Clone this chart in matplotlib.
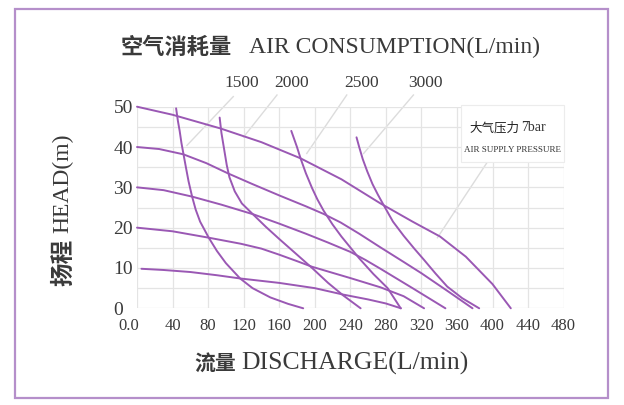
import matplotlib
matplotlib.use('Agg')
import matplotlib.pyplot as plt
from matplotlib.patches import Rectangle
import matplotlib.transforms as mtransforms

# ---------------- data ----------------
x_ticks = [0, 40, 80, 120, 160, 200, 240, 280, 320, 360, 400, 440, 480]
x_tick_labels = ['0.0', '40', '80', '120', '160', '200', '240', '280', '320', '360', '400', '440', '480']
y_ticks = [0, 10, 20, 30, 40, 50]
y_tick_labels = ['0', '10', '20', '30', '40', '50']

# head curves (discharge L/min, head m)
h50_x = [0, 40, 94, 140, 184, 230, 274, 310, 341, 370, 400, 420.6]
h50_y = [50, 48, 44.6, 41.2, 37.2, 32, 26, 21.5, 17.8, 12.8, 6, 0]
h40_x = [0, 25, 52, 78, 103, 130, 160, 190, 210, 229, 250, 274, 300, 320, 350, 377.5]
h40_y = [40, 39.5, 38.2, 36, 33.4, 30.8, 28, 25.3, 23.4, 21.3, 18.5, 15.1, 11.5, 8.7, 4.2, 0]
h30_x = [0, 30, 62, 95, 131, 160, 190, 215, 240, 257, 274, 310, 347]
h30_y = [30, 29.3, 27.7, 25.7, 23.3, 21, 18.5, 16.3, 14, 12, 9.8, 5, 0]
h20_x = [0, 40, 81, 117, 140, 160, 180, 197, 220, 240, 274, 300, 323]
h20_y = [20, 19.1, 17.5, 16, 14.8, 13.3, 11.7, 10.3, 8.8, 7.5, 5.2, 3, 0]
h10_x = [5, 30, 60, 90, 116, 140, 160, 200, 232, 260, 280, 297]
h10_y = [9.8, 9.5, 9, 8.2, 7.4, 6.8, 6.3, 5.0, 3.4, 2.2, 1.2, 0]

# air consumption curves
a1500_x = [44, 46, 48, 50, 52.5, 55, 58, 62, 66, 71, 81, 90, 100, 116, 130, 150, 170, 187]
a1500_y = [49.6, 46.5, 44, 41, 38, 35, 31.5, 27.7, 24.5, 21.5, 17.4, 14.2, 11.2, 7.4, 5, 2.7, 1.1, 0]
a2000_x = [93, 95, 98, 101, 104, 110, 118, 131, 145, 160, 178, 197, 215, 232, 251.6]
a2000_y = [47.3, 43.5, 39.5, 35.5, 32.5, 29, 26, 23.2, 20.2, 17.2, 13.7, 10, 6.3, 3.2, 0]
a2500_x = [173.6, 176, 180, 184, 190, 197, 203, 210, 220, 230, 250, 266, 282, 296.7]
a2500_y = [44, 42.5, 40, 37.2, 33.5, 29.8, 27, 24.2, 20.8, 17.8, 12.4, 8.5, 5, 0]
a3000_x = [247, 250, 254, 259, 265, 271, 277, 288, 300, 312, 323, 336, 349, 366, 385]
a3000_y = [42.4, 40, 37, 34, 30.8, 28.2, 25.8, 21.5, 18, 14.8, 12, 8.6, 5.4, 2.5, 0]

air_labels = ['1500', '2000', '2500', '3000']

# ---------------- layout / style ----------------
W, H = 624, 405
CURVE = '#9a58b4'
GRID = '#e4e4e4'
LEAD = '#dcdcdc'
TXT = '#3a3a3a'
SERIF = ['Liberation Serif', 'DejaVu Serif']
CJK = ['Noto Sans CJK SC', 'DejaVu Sans']

fig = plt.figure(figsize=(W / 100, H / 100), dpi=100)
fig.patch.set_facecolor('white')

# outer frame
fig.patches.append(Rectangle((15 / W, 1 - 398 / H), 593 / W, 389 / H,
                             transform=fig.transFigure, fill=False,
                             edgecolor='#b58fca', linewidth=1.6))

ax = fig.add_axes([137 / W, 1 - 308.3 / H, 426.6 / W, 201.6 / H])
ax.set_xlim(0, 480)
ax.set_ylim(0, 50)
for s in ax.spines.values():
    s.set_visible(False)

# grid
ax.set_xticks(x_ticks)
ax.set_yticks(y_ticks)
ax.set_yticks([5, 15, 25, 35, 45], minor=True)
ax.grid(True, which='both', color=GRID, linewidth=0.9, zorder=0)
ax.tick_params(which='both', length=0)
ax.set_xticklabels(x_tick_labels, family=SERIF, fontsize=12, color=TXT)
ax.set_yticklabels(y_tick_labels, family=SERIF, fontsize=14, color=TXT, ha='left')
ax.tick_params(axis='x', pad=7)
ax.tick_params(axis='y', pad=17)
# shift the "0.0" label a little to the left as in the reference
lbl0 = ax.get_xticklabels()[0]
lbl0.set_transform(lbl0.get_transform() + mtransforms.ScaledTranslation(-8 / 100, 0, fig.dpi_scale_trans))

# curves
for xs, ys in [(h50_x, h50_y), (h40_x, h40_y), (h30_x, h30_y), (h20_x, h20_y), (h10_x, h10_y),
               (a1500_x, a1500_y), (a2000_x, a2000_y), (a2500_x, a2500_y), (a3000_x, a3000_y)]:
    ax.plot(xs, ys, color=CURVE, linewidth=1.4, clip_on=False, zorder=3,
            solid_joinstyle='round', solid_capstyle='round')

# air consumption labels with leader lines
lab_pos = [(118, 56), (173.6, 56), (253, 56), (324, 56)]
lead = [((108.3, 52.5), (56.2, 40.4)), ((157.5, 52.9), (120, 42.5)),
        ((236, 52.9), (191, 38.4)), ((311, 52.9), (255, 38.4))]
for t, (lx, ly), (p0, p1) in zip(air_labels, lab_pos, lead):
    ax.text(lx, ly, t, family=SERIF, fontsize=12.5, color=TXT, ha='center', va='center',
            clip_on=False)
    ax.plot([p0[0], p1[0]], [p0[1], p1[1]], color=LEAD, linewidth=1.0, clip_on=False, zorder=1)

# air supply pressure box
ax.add_patch(Rectangle((364, 36.2), 116, 14.3, facecolor='white', edgecolor='#ececec',
                       linewidth=0.8, zorder=2, clip_on=False))
ax.plot([394, 338], [36.2, 17.5], color=LEAD, linewidth=1.0, zorder=1)
ax.text(430, 44.8, '大气压力', family=CJK, fontsize=9, color='#222222', ha='right',
        va='center', zorder=4)
ax.text(432, 44.8, '7bar', family=SERIF, fontsize=10, color='#333333', ha='left',
        va='center', zorder=4)
ax.text(422, 39.3, 'AIR SUPPLY PRESSURE', family=SERIF, fontsize=6.5, color='#333333',
        ha='center', va='center', zorder=4)

# title
fig.text(232 / W, 1 - 47 / H, '空气消耗量', family=CJK, fontsize=16, fontweight='bold',
         color=TXT, ha='right', va='center')
fig.text(249 / W, 1 - 47 / H, 'AIR CONSUMPTION(L/min)', family=SERIF, fontsize=17,
         color=TXT, ha='left', va='center')

# x label
fig.text(236 / W, 1 - 363 / H, '流量', family=CJK, fontsize=15, fontweight='bold',
         color=TXT, ha='right', va='center')
fig.text(241 / W, 1 - 363 / H, 'DISCHARGE(L/min)', family=SERIF, fontsize=18.5,
         color=TXT, ha='left', va='center')

# y label
fig.text(63 / W, 1 - 239 / H, '扬程', family=CJK, fontsize=17, fontweight='bold',
         color=TXT, ha='center', va='top', rotation=90)
fig.text(63 / W, 1 - 233 / H, 'HEAD(m)', family=SERIF, fontsize=17,
         color=TXT, ha='center', va='bottom', rotation=90)

fig.savefig('out.png', dpi=100, facecolor='white')
